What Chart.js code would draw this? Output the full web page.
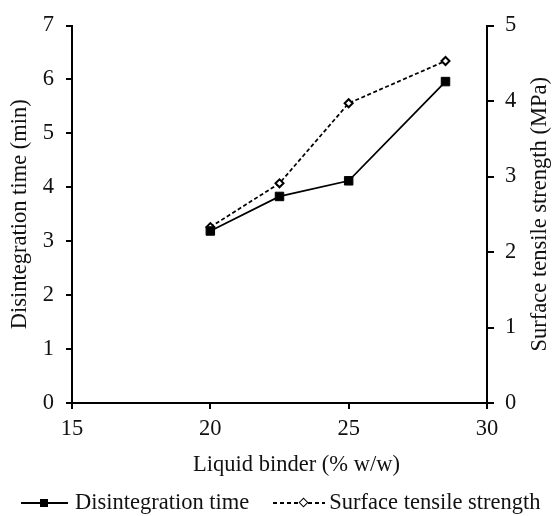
<!DOCTYPE html>
<html>
<head>
<meta charset="utf-8">
<script src="https://cdn.jsdelivr.net/npm/chart.js@4.4.1/dist/chart.umd.min.js"></script>
<style>
    html, body { margin: 0; padding: 0; background: #fff; }
    #wrap { position: relative; width: 554px; height: 516px; }
    #legend {
        position: absolute; left: 21px; top: 489px;
        font-family: 'Liberation Serif', 'Times New Roman', serif;
        font-size: 22.5px; line-height: 26px; color: #111; white-space: nowrap;
    }
    .key { display: inline-block; position: relative; width: 47px; height: 14px; vertical-align: -1px; }
    .key::before { content: ''; position: absolute; left: 0; right: 0; top: 6px; height: 2px; }
    .solid::before { background: #000; }
    .dashed { width: 52px; }
    .dashed::before { background: repeating-linear-gradient(to right, #000 0 4px, transparent 4px 7px); height: 1.5px; }
    .key i { position: absolute; }
    .solid i { left: 19px; top: 3px; width: 8px; height: 8px; background: #000; }
    .dashed i { left: 27px; top: 3px; width: 5px; height: 5px; border: 1.5px solid #000; background: #fff; transform: rotate(45deg); }
</style>
</head>
<body>
<div id="wrap">
    <canvas id="chart" width="554" height="516"></canvas>
    <div id="legend">
        <span class="key solid"><i></i></span><span style="margin-left:7px">Disintegration time</span><span class="key dashed" style="margin-left:24px"><i></i></span><span style="margin-left:4px">Surface tensile strength</span>
    </div>
</div>
<script>
    // data
    const binder = [20, 22.5, 25, 28.5];              // Liquid binder (% w/w)
    const disintegration = [3.19, 3.83, 4.12, 5.96];   // min, left axis
    const tensile = [2.33, 2.91, 3.97, 4.53];          // MPa, right axis

    const xRange = [15, 30];
    const leftRange = [0, 7];
    const rightRange = [0, 5];

    const FONT = "'Liberation Serif', 'Times New Roman', serif";
    const FONT_SIZE = 22.5;
    Chart.defaults.font.family = FONT;
    Chart.defaults.font.size = FONT_SIZE;
    Chart.defaults.color = '#111';

    const toPoints = ys => ys.map((y, i) => ({ x: binder[i], y }));

    // titles drawn by hand: the right one reads bottom-to-top, the x one sits a bit right of centre
    const axisTitles = {
        id: 'axisTitles',
        afterDraw(chart) {
            const { ctx, chartArea } = chart;
            ctx.save();
            ctx.font = FONT_SIZE + 'px ' + FONT;
            ctx.fillStyle = '#111';
            ctx.textAlign = 'center';
            ctx.textBaseline = 'middle';
            ctx.fillText('Liquid binder (% w/w)', (chartArea.left + chartArea.right) / 2 + 17, 465);
            ctx.translate(540, (chartArea.top + chartArea.bottom) / 2);
            ctx.rotate(-Math.PI / 2);
            ctx.fillText('Surface tensile strength (MPa)', 0, 0);
            ctx.restore();
        }
    };

    const axisBase = {
        border: { display: true, color: '#000', width: 2 },
        grid: { drawOnChartArea: false, drawTicks: true, tickLength: 6, color: '#000', lineWidth: 2 }
    };

    new Chart(document.getElementById('chart'), {
        type: 'scatter',
        data: {
            datasets: [{
                label: 'Disintegration time',
                data: toPoints(disintegration),
                yAxisID: 'y',
                showLine: true,
                borderColor: '#000',
                borderWidth: 1.75,
                pointStyle: 'rect',
                pointRadius: 6,
                pointBackgroundColor: '#000',
                pointBorderColor: '#000',
                pointBorderWidth: 1
            }, {
                label: 'Surface tensile strength',
                data: toPoints(tensile),
                yAxisID: 'y2',
                showLine: true,
                borderColor: '#000',
                borderWidth: 1.75,
                borderDash: [4, 2.5],
                pointStyle: 'rectRot',
                pointRadius: 4,
                pointBackgroundColor: '#fff',
                pointBorderColor: '#000',
                pointBorderWidth: 2
            }]
        },
        options: {
            responsive: false,
            animation: false,
            layout: { padding: { top: 17, right: 0, bottom: 38, left: 0 } },
            plugins: { legend: { display: false }, tooltip: { enabled: false } },
            scales: {
                x: {
                    ...axisBase,
                    type: 'linear',
                    min: xRange[0], max: xRange[1],
                    ticks: { stepSize: 5, padding: 7 },
                    afterFit: s => { s.height = 75; }
                },
                y: {
                    ...axisBase,
                    position: 'left',
                    min: leftRange[0], max: leftRange[1],
                    ticks: { stepSize: 1, padding: 12 },
                    title: { display: true, text: 'Disintegration time (min)', padding: { top: 7, bottom: 0 } },
                    afterFit: s => { s.width = 72; }
                },
                y2: {
                    ...axisBase,
                    position: 'right',
                    min: rightRange[0], max: rightRange[1],
                    grid: { ...axisBase.grid, tickLength: 7 },
                    ticks: { stepSize: 1, padding: 11 },
                    afterFit: s => { s.width = 67; }
                }
            }
        },
        plugins: [axisTitles]
    });
</script>
</body>
</html>
